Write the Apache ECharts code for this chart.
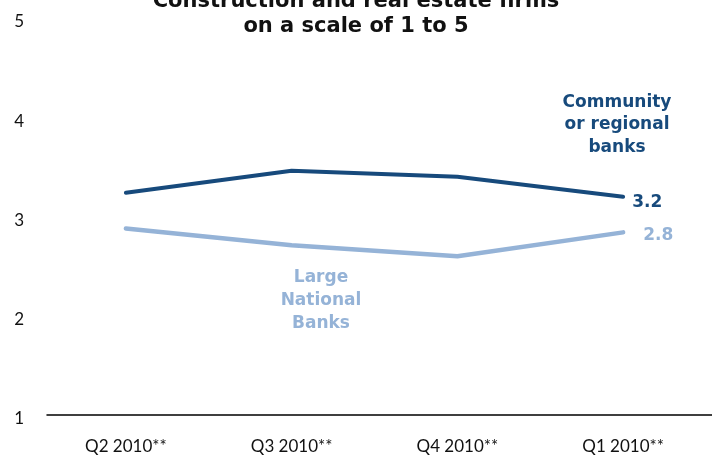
<!DOCTYPE html>
<html>
<head>
<meta charset="utf-8">
<script src="https://cdn.jsdelivr.net/npm/echarts@6/dist/echarts.min.js"></script>
<style>html,body{margin:0;padding:0;background:#fff;}#c{width:712px;height:459px;}</style>
</head>
<body>
<div id="c"></div>
<script>
const categories = ['Q2 2010**', 'Q3 2010**', 'Q4 2010**', 'Q1 2010**'];
const communityBanks = [3.24, 3.46, 3.40, 3.20];
const largeBanks = [2.88, 2.71, 2.60, 2.84];
const yTicks = [1, 2, 3, 4, 5];
const endLabels = ['3.2', '2.8'];
const titleText = 'Construction and real estate firms\non a scale of 1 to 5';

const DARK = '#174a7c';
const LIGHT = '#95b3d7';
const chart = echarts.init(document.getElementById('c'), null, {renderer: 'canvas'});
chart.setOption({
  animation: false,
  title: {
    text: titleText,
    left: 'center',
    top: -11,
    padding: 0,
    textStyle: {fontFamily: 'DejaVu Sans', fontWeight: 'bold', fontSize: 21, lineHeight: 25, color: '#111'}
  },
  grid: [
    {left: 43, right: 6, top: 18, bottom: 44},
    {left: 47, right: 0, top: 18, bottom: 44}
  ],
  xAxis: [
    {
      type: 'category', data: categories, gridIndex: 0, boundaryGap: true,
      axisLine: {show: false}, axisTick: {show: false},
      axisLabel: {margin: 23, fontFamily: 'Lato', fontSize: 17, color: '#111'}
    },
    {
      type: 'category', data: [''], gridIndex: 1,
      axisLine: {show: true, lineStyle: {color: '#000', width: 1.5}},
      axisTick: {show: false}, axisLabel: {show: false}
    }
  ],
  yAxis: [
    {
      type: 'value', gridIndex: 0, min: yTicks[0], max: yTicks[yTicks.length - 1], interval: 1,
      axisLine: {show: false}, axisTick: {show: false}, splitLine: {show: false},
      axisLabel: {margin: 19, color: '#111', formatter: v => '{a|' + v + '}',
        rich: {a: {fontFamily: 'Lato', fontSize: 17, color: '#111', padding: [8, 0, 0, 0]}}}
    },
    {type: 'value', gridIndex: 1, show: false, min: 1, max: 5}
  ],
  series: [
    {
      name: 'Community or regional banks', type: 'line', data: communityBanks,
      xAxisIndex: 0, yAxisIndex: 0, symbol: 'none',
      lineStyle: {color: DARK, width: 4, cap: 'round', join: 'round'},
      endLabel: {show: true, formatter: () => endLabels[0], distance: 9, offset: [0, 6],
        fontFamily: 'DejaVu Sans', fontWeight: 'bold', fontSize: 17, color: DARK}
    },
    {
      name: 'Large National Banks', type: 'line', data: largeBanks,
      xAxisIndex: 0, yAxisIndex: 0, symbol: 'none',
      lineStyle: {color: LIGHT, width: 4.5, cap: 'round', join: 'round'},
      endLabel: {show: true, formatter: () => endLabels[1], distance: 20, offset: [0, 3],
        fontFamily: 'DejaVu Sans', fontWeight: 'bold', fontSize: 17, color: LIGHT}
    }
  ],
  graphic: [
    {type: 'text', style: {x: 617, y: 91, text: 'Community\nor regional\nbanks', align: 'center',
      verticalAlign: 'top', font: 'bold 17px "DejaVu Sans"', lineHeight: 22.5, fill: DARK}},
    {type: 'text', style: {x: 321, y: 266, text: 'Large\nNational\nBanks', align: 'center',
      verticalAlign: 'top', font: 'bold 17px "DejaVu Sans"', lineHeight: 23, fill: LIGHT}}
  ]
});
</script>
</body>
</html>
